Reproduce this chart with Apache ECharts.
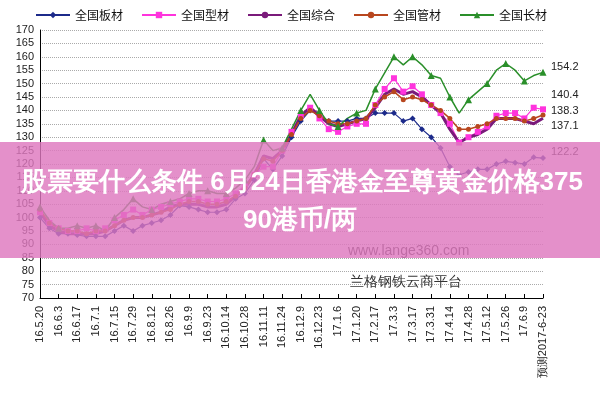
<!DOCTYPE html>
<html><head><meta charset="utf-8">
<script src="https://cdn.jsdelivr.net/npm/echarts@6/dist/echarts.min.js"></script>
<style>html,body{margin:0;padding:0;background:#fff}#c{width:600px;height:400px}</style>
</head><body><div id="c"></div>
<script>
const categories = ['16.5.20','16.5.27','16.6.3','16.6.10','16.6.17','16.6.24','16.7.1','16.7.8','16.7.15','16.7.22','16.7.29','16.8.5','16.8.12','16.8.19','16.8.26','16.9.2','16.9.9','16.9.14','16.9.23','16.9.30','16.10.14','16.10.21','16.10.28','16.11.4','16.11.11','16.11.18','16.11.24','16.12.2','16.12.9','16.12.16','16.12.23','16.12.30','17.1.6','17.1.13','17.1.20','17.2.10','17.2.17','17.2.24','17.3.3','17.3.10','17.3.17','17.3.24','17.3.31','17.4.7','17.4.14','17.4.21','17.4.28','17.5.5','17.5.12','17.5.19','17.5.26','17.6.2','17.6.9','17.6.16','预测2017-6-23'];
const banCai = [100,96,94,94,93.5,93,93,93,95,97,95,97,98,99,101,104.5,104,103,102,102,103,107,109,114,122,118,123,130,136,140,138,136,136,136,137,137,139,139,139,136,137,133,130,126,119,116,117,118,118,120,121,120.5,120,122.5,122.2];
const xingCai = [102,98,96,95,95,96,95,96,99,101,103,101,103,104,105,106,107,107,106,106,107,109,112,116,119,119,125,132,138,141,137,133,132,134,135,135,142,148,152,147,149,146,142,139,135,128,130,132,134,138,139,139,137,141,140.4];
const zongHe = [102,97,95,94,94,94,94,95,97,99,100,100,101,102,104,105,105,105,104,104,105,108,111,116,123,122,125,131,138,141,138,135,134,135,136,137,141,146,148,146,147,145,142,139,133,128,130,131,133,137,137,137,136,135,137.1];
const guanCai = [103,98,96,95,95,94,95,95,97,99,100,100,101,102,103,105,106,106,105,105,106,108,111,116,122,121,125,131,137,140,138,136,135,135,136,137,142,145,147,144,145,144,142,140,137,133,133,134,135,137,137,137,136,137,138.3];
const changCai = [104,99,96,96,97,96,97,95,100,103,107,104,103,105,106,107,109,110,110,109,109,111,114,119,129,125,126,133,140,146,140,135,134,137,139,140,148,154,160,157,160,157,153,152,145,139,144,147,150,155,157.5,155,151,153,154.2];
const seriesNames = ['全国板材','全国型材','全国综合','全国管材','全国长材'];

const lblFont={fontSize:11,color:'#222',fontFamily:'Liberation Sans Narrow, Liberation Sans, sans-serif'};
const mk=(name,data,color,symbol,size,width,dy)=>({name,type:'line',data,symbol,symbolSize:size,showSymbol:symbol!=='none',color,
  lineStyle:{width,color},itemStyle:{color},animation:false,z:2,
  endLabel:{show:true,formatter:String(data[data.length-1]),offset:[0,dy||0],...lblFont}});
const chart=echarts.init(document.getElementById('c'));
chart.setOption({
  animation:false,
  textStyle:{fontFamily:'Noto Sans CJK SC, sans-serif'},
  legend:{top:4,left:30,itemWidth:34,itemHeight:8,itemGap:18,textStyle:{fontSize:12,color:'#111'},data:seriesNames},
  grid:{left:40,right:57,top:30,bottom:102},
  xAxis:{type:'category',data:categories,boundaryGap:false,
    axisLine:{lineStyle:{color:'#000'}},axisTick:{interval:1,inside:true,length:4,lineStyle:{color:'#000'}},
    axisLabel:{interval:1,rotate:90,fontSize:11,color:'#222',margin:8,fontFamily:'Liberation Sans, sans-serif'},splitLine:{show:false}},
  yAxis:{type:'value',min:70,max:170,interval:5,
    axisLine:{show:true,lineStyle:{color:'#000'}},axisTick:{show:false},
    axisLabel:{fontSize:11,color:'#222',margin:6,fontFamily:'Liberation Sans Narrow, Liberation Sans, sans-serif'},
    splitLine:{lineStyle:{type:'dotted',color:'#aaa'}}},
  graphic:[
    {type:'text',left:348,top:244,z:1,style:{text:'www.lange360.com',fontSize:14,fill:'#333',fontFamily:'Liberation Sans, sans-serif'}},
    {type:'text',left:350,top:275,z:1,style:{text:'兰格钢铁云商平台',fontSize:14,fill:'#333'}},
    {type:'rect',left:0,top:142,z:100,shape:{width:600,height:116},style:{fill:'rgba(222,120,190,0.82)'}},
    {type:'text',x:302,y:183,z:101,style:{text:'股票要什么条件 6月24日香港金至尊黄金价格375',fontSize:26,fontWeight:'bold',fill:'#fff',align:'center',verticalAlign:'middle'}},
    {type:'text',x:300,y:221,z:101,style:{text:'90港币/两',fontSize:26,fontWeight:'bold',fill:'#fff',align:'center',verticalAlign:'middle'}}
  ],
  series:[
    mk('全国板材',banCai,'#1c2a8a','diamond',6,1.2,-6),
    mk('全国型材',xingCai,'#ff33dd','rect',6,1.2,-14),
    mk('全国综合',zongHe,'#7a1a7a','none',0,3,8),
    mk('全国管材',guanCai,'#b8461e','circle',5,1.5,-4),
    mk('全国长材',changCai,'#2a8f2a','triangle',7,1.5,-5)
  ]
});
</script></body></html>
